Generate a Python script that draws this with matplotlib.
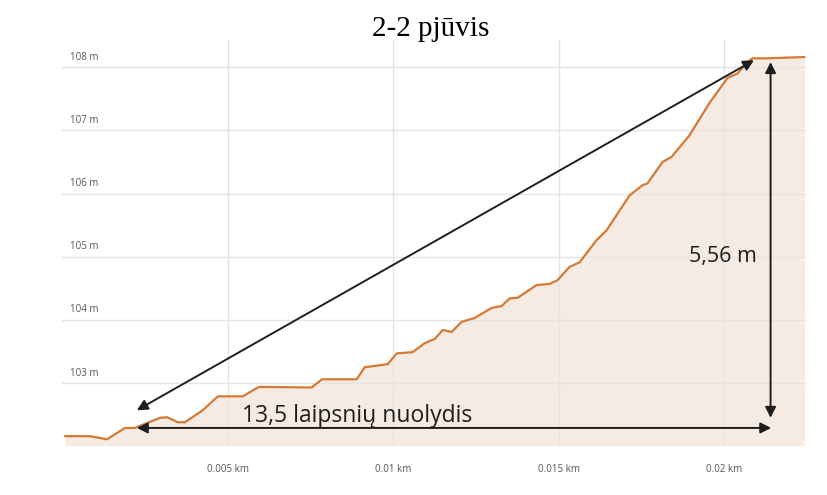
import numpy as np
import matplotlib
matplotlib.use("Agg")
import matplotlib.pyplot as plt

# elevation profile
dist_km = [0.0001, 0.00084, 0.00136, 0.0019, 0.0022, 0.00296, 0.00317, 0.0035, 0.00371,
           0.00425, 0.00471, 0.00546, 0.00588, 0.00597, 0.00754, 0.00785, 0.0089, 0.00914,
           0.00984, 0.01011, 0.01059, 0.01095, 0.01126, 0.0115, 0.01177, 0.01207, 0.01246,
           0.01298, 0.01328, 0.01352, 0.01376, 0.01433, 0.01473, 0.01497, 0.01533, 0.01563,
           0.01614, 0.01645, 0.01714, 0.01753, 0.01768, 0.01814, 0.01841, 0.01895, 0.01955,
           0.0201, 0.0204, 0.02067, 0.02085, 0.02127, 0.02242]
elev_m = [102.16, 102.16, 102.11, 102.29, 102.29, 102.45, 102.46, 102.38, 102.38,
          102.57, 102.79, 102.79, 102.92, 102.94, 102.93, 103.06, 103.06, 103.25,
          103.30, 103.47, 103.49, 103.63, 103.70, 103.84, 103.81, 103.97, 104.03,
          104.19, 104.22, 104.34, 104.35, 104.55, 104.57, 104.63, 104.84, 104.91,
          105.26, 105.42, 105.97, 106.13, 106.16, 106.50, 106.58, 106.92, 107.43,
          107.83, 107.90, 108.06, 108.14, 108.14, 108.16]

y_ticks = [103, 104, 105, 106, 107, 108]
x_ticks = [0.005, 0.01, 0.015, 0.02]
x_labels = ["0.005 km", "0.01 km", "0.015 km", "0.02 km"]

title = "2-2 pjūvis"
slope_text = "13,5 laipsnių nuolydis"
height_text = "5,56 m"

# annotation end points (data units)
diag_start = (0.00226, 102.57)
diag_end = (0.0209, 108.11)
horiz_y = 102.29
horiz_x = (0.00226, 0.02142)
vert_x = 0.0214
vert_y = (102.45, 108.08)

fig = plt.figure(figsize=(8.28, 4.95), dpi=100)
ax = fig.add_axes([62 / 828, 1 - 445 / 495, 745 / 828, 405 / 495])

ax.fill_between(dist_km, elev_m, 101.0, color="#f5ebe2", lw=0, zorder=1)
ax.plot(dist_km, elev_m, color="#d47a35", lw=1.6, zorder=3)

ax.set_xlim(0, 0.0225)
ax.set_ylim(102.02, 108.43)
ax.set_yticks(y_ticks)
ax.set_yticklabels([])
ax.set_xticks(x_ticks)
ax.set_xticklabels(x_labels, fontsize=7, color="#555555", family="Open Sans")
ax.tick_params(length=0, pad=14)
ax.tick_params(axis="y", length=0, pad=0)
ax.grid(True, color="#e4e4e4", lw=1, zorder=2)
ax.set_axisbelow(False)
for s in ax.spines.values():
    s.set_visible(False)

for v in y_ticks:
    ax.text(0.00025, v + 0.07, f"{v} m", fontsize=7, color="#555555",
            family="Open Sans", va="bottom", ha="left", zorder=4)

arrow = dict(arrowstyle="<|-|>", color="#1e1e1e", lw=1.4, mutation_scale=16,
             shrinkA=0, shrinkB=0)
ax.annotate("", xy=diag_start, xytext=diag_end, arrowprops=arrow, zorder=5)
ax.annotate("", xy=(horiz_x[0], horiz_y), xytext=(horiz_x[1], horiz_y),
            arrowprops=arrow, zorder=5)
ax.annotate("", xy=(vert_x, vert_y[0]), xytext=(vert_x, vert_y[1]),
            arrowprops=arrow, zorder=5)

ax.text(0.00545, 102.39, slope_text, fontsize=16.5, family="Open Sans",
        color="#1e1e1e", ha="left", va="baseline", zorder=6)
ax.text(0.01995, 105.0, height_text, fontsize=15.5, family="Open Sans",
        color="#1e1e1e", ha="center", va="center", zorder=6)

fig.text(431 / 828, 1 - 29 / 495, title, fontsize=21, family="Liberation Serif",
         ha="center", va="center")

fig.savefig("out.png", dpi=100)
